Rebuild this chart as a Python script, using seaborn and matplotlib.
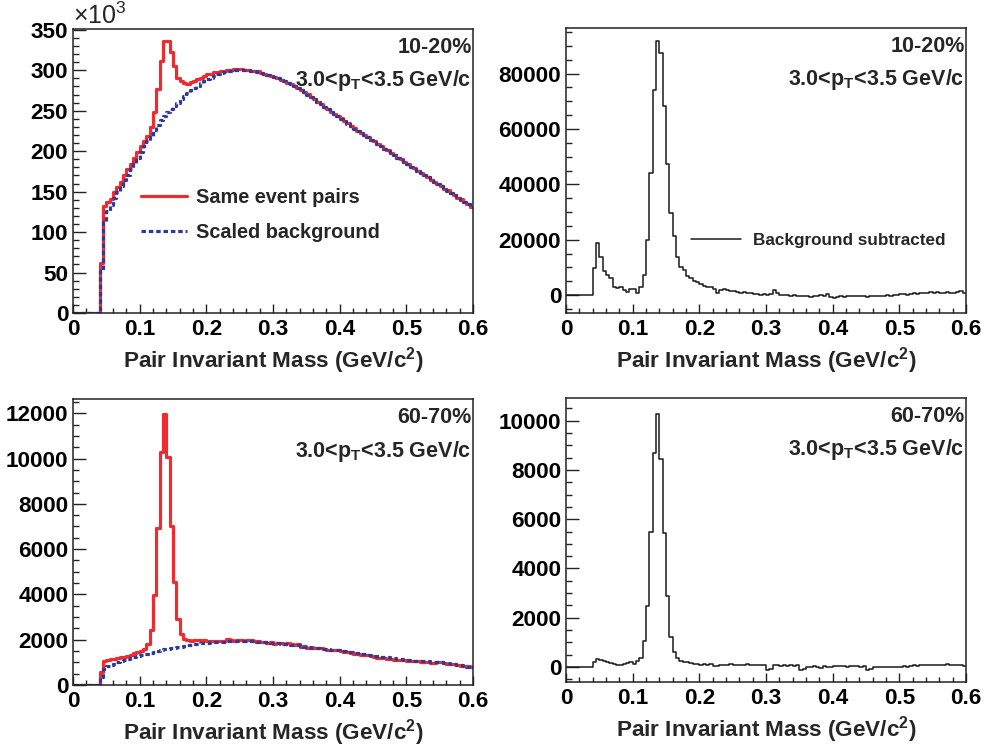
import numpy as np
import pandas as pd
import seaborn as sns
import matplotlib
matplotlib.use("Agg")
import matplotlib.pyplot as plt
from matplotlib.lines import Line2D
from matplotlib.ticker import MultipleLocator, FuncFormatter

# ---------------- data (bin width 0.005 GeV/c^2, 120 bins from 0 to 0.6) ----------------
n_bins = 120
mass_range = (0.0, 0.6)
mass_edges = np.linspace(mass_range[0], mass_range[1], n_bins + 1)
mass_centers = (mass_edges[:-1] + mass_edges[1:]) / 2

# 10-20% : same-event pairs (x10^3)
same_1020 = [
    0, 0, 0, 0, 0, 0, 0, 0, 62, 132,
    137, 141, 149, 156, 162, 171, 178, 184, 191, 199,
    206, 212, 219, 230, 248, 277, 312, 336, 336, 322,
    305, 290, 287, 284, 283, 285, 287, 289, 291, 293,
    295, 296, 297.5, 298, 299, 299.5, 300, 300.5, 301, 301,
    301, 300.5, 300.5, 299.5, 299, 298.5, 297, 295.5, 294.5, 292.5,
    291.5, 290.5, 288.5, 287, 284.5, 282.5, 280.5, 278.5, 275.5, 273,
    270.5, 267, 264.5, 261, 258.5, 255, 252.5, 249, 246.5, 243,
    240.5, 237, 234.5, 231, 228.5, 225.5, 223, 219.5, 217.5, 214,
    212, 208.5, 206.5, 203, 201, 197.5, 195.5, 192, 190, 186.5,
    184.5, 181, 179, 175.5, 173.5, 170, 168, 164.5, 162.5, 159,
    157, 153.5, 151.5, 148, 146, 142.5, 140.5, 137, 135, 131.5,
]
# 10-20% : scaled mixed-event background (x10^3)
bkg_1020 = [
    0, 0, 0, 0, 0, 0, 0, 0, 52, 112,
    126, 134, 142, 150, 157, 164, 171, 178, 185, 192,
    199, 206, 212, 218, 226, 232, 238, 243, 248, 252,
    256, 260, 264, 268, 272, 275, 278, 281, 284, 287,
    289, 291, 293, 295, 296.5, 297.5, 298.5, 299.5, 300, 300.5,
    300.5, 300.5, 300, 299.5, 299, 298, 297, 295.5, 294, 292.5,
    291.5, 290, 288.5, 286.5, 284.5, 282.5, 280.5, 278, 275.5, 273,
    270, 267, 264, 261, 258, 255, 252, 249, 246, 243,
    240, 237, 234, 231, 228, 225.5, 222.5, 219.5, 217, 214,
    211.5, 208.5, 206, 203, 200.5, 197.5, 195, 192, 189.5, 186.5,
    184, 181, 178.5, 175.5, 173, 170, 167.5, 164.5, 162, 159,
    156.5, 153.5, 151, 148, 145.5, 142.5, 140, 137, 134.5, 131.5,
]
# 10-20% : background subtracted
sub_1020 = [
    0, 0, 0, 0, 0, 0, 0, 0, 9700, 18800,
    13900, 8800, 7300, 6000, 3000, 2400, 2800, 1800, 1200, 2000,
    2000, 850, 3000, 7300, 20000, 44000, 74000, 91900, 87600, 68200,
    47300, 29700, 21200, 13900, 10000, 9100, 6700, 6000, 5200, 4600,
    4000, 3400, 3000, 2800, 2300, 800, 1900, 2100, 1800, 1300,
    1500, 1000, 800, 1100, 600, 700, 300, 500, 100, 200,
    0, 300, 1800, 800, 100, -100, 0, -200, 100, -300,
    -200, -500, -400, -700, -500, -300, 0, -200, 300, -800,
    -1000, -700, -500, -600, -400, -300, -200, -500, -300, -400,
    -600, -300, -500, -200, -400, -300, -100, -300, 0, 100,
    200, 300, 100, 400, 600, 500, 700, 900, 600, 1000,
    800, 1100, 900, 700, 1000, 600, 800, 1200, 1500, 900,
]
# 60-70% : same-event pairs
same_6070 = [
    0, 0, 0, 0, 0, 0, 0, 0, 590, 1070,
    1100, 1130, 1150, 1180, 1220, 1240, 1260, 1340, 1400, 1440,
    1490, 1590, 1810, 2440, 3990, 6940, 10280, 11950, 10050, 7030,
    4550, 2920, 2260, 2040, 1970, 1960, 1990, 1970, 2000, 1980,
    1960, 1950, 1940, 1930, 1950, 1940, 2030, 1990, 1950, 1970,
    1990, 1960, 1970, 1990, 1960, 1940, 1890, 1900, 1870, 1880,
    1820, 1850, 1860, 1830, 1860, 1820, 1760, 1790, 1680, 1720,
    1640, 1660, 1630, 1650, 1620, 1600, 1560, 1550, 1530, 1540,
    1480, 1460, 1440, 1420, 1370, 1350, 1330, 1340, 1310, 1290,
    1230, 1200, 1190, 1180, 1150, 1130, 1120, 1110, 1100, 1090,
    1080, 1060, 1070, 1040, 1010, 1000, 1020, 990, 980, 1000,
    1010, 990, 940, 920, 930, 900, 860, 850, 840, 800,
]
# 60-70% : scaled mixed-event background
bkg_6070 = [
    0, 0, 0, 0, 0, 0, 0, 0, 340, 700,
    850, 900, 940, 1000, 1050, 1100, 1150, 1190, 1230, 1270,
    1310, 1350, 1390, 1430, 1470, 1510, 1540, 1570, 1595, 1620,
    1650, 1670, 1690, 1720, 1750, 1780, 1810, 1830, 1850, 1860,
    1870, 1880, 1890, 1900, 1910, 1920, 1930, 1940, 1950, 1955,
    1955, 1950, 1945, 1940, 1930, 1920, 1910, 1895, 1880, 1865,
    1850, 1835, 1820, 1805, 1790, 1775, 1765, 1745, 1720, 1700,
    1680, 1655, 1630, 1615, 1600, 1585, 1570, 1555, 1540, 1525,
    1515, 1490, 1470, 1450, 1425, 1405, 1385, 1360, 1340, 1315,
    1295, 1275, 1255, 1235, 1215, 1195, 1175, 1155, 1135, 1120,
    1100, 1090, 1080, 1070, 1060, 1050, 1040, 1030, 1020, 1010,
    1000, 980, 960, 940, 915, 890, 865, 840, 815, 790,
]
# 60-70% : background subtracted
sub_6070 = [
    0, 0, 0, 0, 0, 0, 0, 0, 200, 310,
    270, 245, 200, 170, 135, 95, 70, 110, 160, 200,
    135, 245, 365, 1060, 2470, 5460, 8690, 10290, 8440, 5430,
    2880, 1230, 590, 350, 260, 200, 220, 150, 130, 140,
    100, 120, 90, 140, 30, 20, 70, 100, 80, 110,
    70, 90, 100, 60, 110, 90, 80, 100, 60, 90,
    -120, -80, 60, 90, 40, 70, 50, 100, 20, 60,
    -130, -90, 10, -20, 30, 0, -30, 20, 0, 10,
    40, 20, 50, 30, 10, 40, 20, 30, 0, 20,
    -120, -100, -20, 0, -10, 10, -20, 0, 10, -10,
    0, 20, 10, 30, 70, 50, 90, 60, 80, 100,
    70, 60, 90, 70, 110, 80, 60, 90, 70, 50,
]

centrality_labels = ["10-20%", "60-70%"]
pt_label = "3.0<p$_{\\mathregular{T}}$<3.5 GeV/c"
x_ticks = [0, 0.1, 0.2, 0.3, 0.4, 0.5, 0.6]

# ---------------- style ----------------
sns.set_theme(style="ticks")
plt.rcParams["font.family"] = ["Liberation Sans", "DejaVu Sans"]
plt.rcParams["mathtext.fontset"] = "custom"
plt.rcParams["mathtext.rm"] = "Liberation Sans:bold"
plt.rcParams["mathtext.bf"] = "Liberation Sans:bold"
plt.rcParams["axes.edgecolor"] = "#222222"
plt.rcParams["axes.linewidth"] = 1.1

RED = "#ee2b2e"
BLUE = "#2e3a98"
BLACK = "#1a1a1a"

W, H = 986, 748
fig = plt.figure(figsize=(W / 100, H / 100), dpi=100)


def make_ax(left, top, right, bottom):
    return fig.add_axes([left / W, 1 - bottom / H, (right - left) / W, (bottom - top) / H])


ax_tl = make_ax(73, 29, 473, 313)
ax_tr = make_ax(566, 28, 966, 313)
ax_bl = make_ax(73, 399, 473, 685)
ax_br = make_ax(566, 398, 966, 682)

df = pd.DataFrame({
    "mass": mass_centers,
    "same_1020": same_1020, "bkg_1020": bkg_1020, "sub_1020": sub_1020,
    "same_6070": same_6070, "bkg_6070": bkg_6070, "sub_6070": sub_6070,
})


def hist(ax, col, color, lw, **kw):
    sns.histplot(data=df, x="mass", weights=col, bins=n_bins, binrange=mass_range,
                 element="step", fill=False, color=color, linewidth=lw, ax=ax, **kw)


hist(ax_tl, "same_1020", RED, 2.3)
hist(ax_tl, "bkg_1020", BLUE, 2.3, linestyle=(0, (1.4, 0.9)))
hist(ax_tr, "sub_1020", BLACK, 1.1)
hist(ax_bl, "same_6070", RED, 2.3)
hist(ax_bl, "bkg_6070", BLUE, 2.3, linestyle=(0, (1.4, 0.9)))
hist(ax_br, "sub_6070", BLACK, 1.1)

fmt = FuncFormatter(lambda v, p: f"{v:g}")

settings = [
    (ax_tl, (0, 351), 50, 10, 0),
    (ax_tr, (-6500, 96500), 20000, 5000, 0),
    (ax_bl, (0, 12630), 2000, 500, 1),
    (ax_br, (-610, 10920), 2000, 500, 1),
]
for ax, ylim, ymaj, ymin, row in settings:
    ax.set_xlim(0, 0.6)
    ax.set_ylim(*ylim)
    ax.set_xticks(x_ticks)
    ax.xaxis.set_minor_locator(MultipleLocator(0.02))
    ax.yaxis.set_major_locator(MultipleLocator(ymaj))
    ax.yaxis.set_minor_locator(MultipleLocator(ymin))
    ax.xaxis.set_major_formatter(fmt)
    ax.yaxis.set_major_formatter(fmt)
    ax.tick_params(axis="both", which="both", direction="in", top=False, right=False,
                   colors="#222222", labelcolor="black", width=1.0)
    ax.tick_params(axis="y", which="major", length=9, pad=3.5, labelsize=16.2)
    ax.tick_params(axis="y", which="minor", length=4.5)
    ax.tick_params(axis="x", which="major", length=6.5, pad=4, labelsize=16.2)
    ax.tick_params(axis="x", which="minor", length=3.3)
    for lab in ax.get_xticklabels() + ax.get_yticklabels():
        lab.set_fontweight("bold")
    for s in ax.spines.values():
        s.set_visible(True)
    ax.set_ylabel("")
    ax.set_xlabel("Pair Invariant Mass (GeV/c$^{\\mathregular{2}}$)", fontsize=16.2,
                  fontweight="bold", labelpad=4)
    ax.text(0.997, 0.935, centrality_labels[row], transform=ax.transAxes, ha="right",
            va="center", fontsize=15.5, fontweight="bold")
    ax.text(0.997, 0.818, pt_label, transform=ax.transAxes, ha="right",
            va="center", fontsize=15.5, fontweight="bold")

ax_tl.text(0.0, 1.0, "\u00d710$^{\\mathregular{3}}$", transform=ax_tl.transAxes,
           ha="left", va="bottom", fontsize=18, fontweight="normal")

h_same = Line2D([], [], color=RED, lw=2.3)
h_bkg = Line2D([], [], color=BLUE, lw=2.3, linestyle=(0, (1.4, 0.9)))
leg = ax_tl.legend([h_same, h_bkg], ["Same event pairs", "Scaled background"],
                   loc="upper left", bbox_to_anchor=(0.125, 0.503), frameon=False,
                   handlelength=2.3, handletextpad=0.5, labelspacing=0.8,
                   prop={"weight": "bold", "size": 14.3})

h_sub = Line2D([], [], color=BLACK, lw=1.1)
ax_tr.legend([h_sub], ["Background subtracted"], loc="upper left",
             bbox_to_anchor=(0.275, 0.335), frameon=False, handlelength=2.9,
             handletextpad=0.7, prop={"weight": "bold", "size": 12.3})

fig.savefig("out.png", dpi=100)
